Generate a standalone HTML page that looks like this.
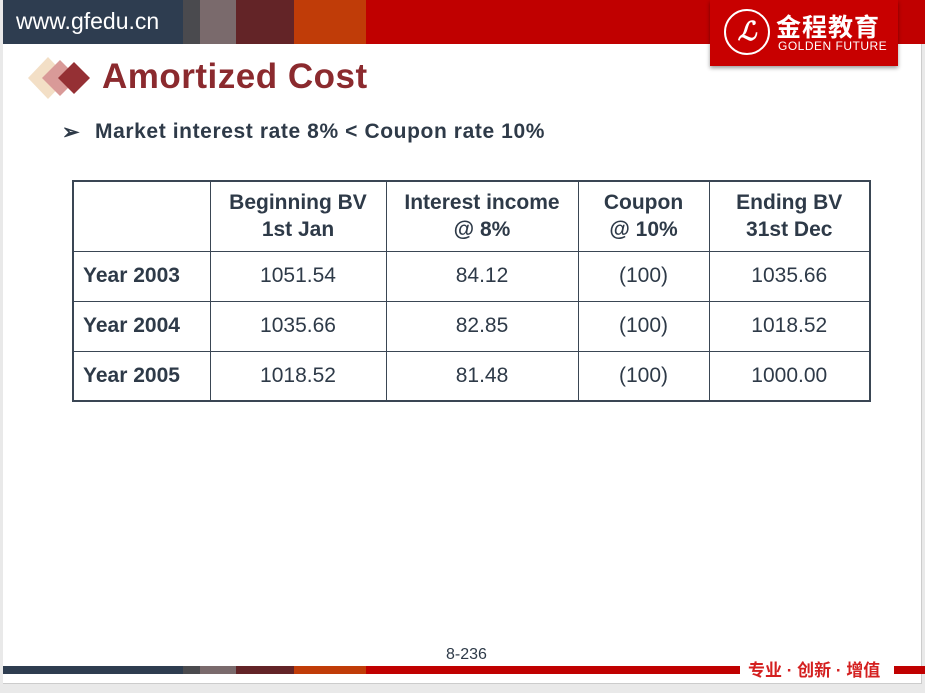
<!DOCTYPE html>
<html><head><meta charset="utf-8"><style>
*{margin:0;padding:0;box-sizing:border-box}
body{width:925px;height:693px;background:#e9e9e9;position:relative;overflow:hidden;font-family:"Liberation Sans","Noto Sans CJK SC",sans-serif}
.page{position:absolute;left:3px;top:0;width:919px;height:684px;background:#fff;border-right:1px solid #ccc;border-bottom:1px solid #ccc}
.seg{position:absolute}
table{position:absolute;left:72px;top:180px;border-collapse:collapse;color:#2e3a48;font-size:21px}
td{border:1px solid #3a4654;text-align:center}
table{border:2px solid #3a4654}
</style></head><body>
<div class="page"></div>
<div class="seg" style="left:3px;top:0;width:180px;height:44px;background:#2e3d50"></div>
<div class="seg" style="left:183px;top:0;width:17px;height:44px;background:#4a4a4e"></div>
<div class="seg" style="left:200px;top:0;width:36px;height:44px;background:#7a6a6c"></div>
<div class="seg" style="left:236px;top:0;width:58px;height:44px;background:#632427"></div>
<div class="seg" style="left:294px;top:0;width:72px;height:44px;background:#c03c08"></div>
<div class="seg" style="left:366px;top:0;width:559px;height:44px;background:#c00000"></div>
<div class="seg" style="left:16px;top:8px;color:#fff;font-size:23px">www.gfedu.cn</div>
<div class="seg" style="left:710px;top:0;width:188px;height:66px;background:#c80000;box-shadow:0 2px 4px rgba(0,0,0,.4)"></div>
<div class="seg" style="left:724px;top:9px;width:46px;height:46px;border:2px solid #fff;border-radius:50%;color:#fff;font:italic bold 26px 'Liberation Serif',serif;text-align:center;line-height:42px">ℒ</div>
<div class="seg" style="left:776px;top:8px;color:#fff;font-size:25px;font-weight:bold;letter-spacing:1px">金程教育</div>
<div class="seg" style="left:778px;top:39px;color:#fff;font-size:12px;letter-spacing:.5px">GOLDEN FUTURE</div>
<svg class="seg" style="left:28px;top:55px" width="66" height="46">
<polygon points="20,2 40,23 20,44 0,23" fill="#f3dfc6"/>
<polygon points="32,5 50,23 32,41 14,23" fill="#d99a98"/>
<polygon points="46,7 62,23 46,39 30,23" fill="#953034"/>
</svg>
<div class="seg" style="left:102px;top:57px;color:#8b2a2e;font-size:35px;font-weight:bold;letter-spacing:.5px">Amortized Cost</div>
<div class="seg" style="left:62px;top:120px;color:#2e3a48;font-size:21px;font-weight:bold">➢</div>
<div class="seg" style="left:95px;top:120px;color:#2e3a48;font-size:21px;font-weight:bold;letter-spacing:.6px">Market interest rate 8% &lt; Coupon rate 10%</div>
<table>
<tr style="height:70px;line-height:27px"><td style="width:137px"></td><td style="width:176px"><b>Beginning BV<br>1st Jan</b></td><td style="width:192px"><b>Interest income<br>@ 8%</b></td><td style="width:131px"><b>Coupon<br>@ 10%</b></td><td style="width:161px"><b>Ending BV<br>31st Dec</b></td></tr>
<tr style="height:50px"><td style="text-align:left;padding-left:9px"><b>Year 2003</b></td><td>1051.54</td><td>84.12</td><td>(100)</td><td>1035.66</td></tr>
<tr style="height:50px"><td style="text-align:left;padding-left:9px"><b>Year 2004</b></td><td>1035.66</td><td>82.85</td><td>(100)</td><td>1018.52</td></tr>
<tr style="height:50px"><td style="text-align:left;padding-left:9px"><b>Year 2005</b></td><td>1018.52</td><td>81.48</td><td>(100)</td><td>1000.00</td></tr>
</table>
<div class="seg" style="left:446px;top:646px;color:#2e3a48;font-size:16px">8-236</div>
<div class="seg" style="left:3px;top:666px;width:180px;height:8px;background:#2e3d50"></div>
<div class="seg" style="left:183px;top:666px;width:17px;height:8px;background:#4a4a4e"></div>
<div class="seg" style="left:200px;top:666px;width:36px;height:8px;background:#7a6a6c"></div>
<div class="seg" style="left:236px;top:666px;width:58px;height:8px;background:#632427"></div>
<div class="seg" style="left:294px;top:666px;width:72px;height:8px;background:#c03c08"></div>
<div class="seg" style="left:366px;top:666px;width:374px;height:8px;background:#c00000"></div>
<div class="seg" style="left:894px;top:666px;width:31px;height:8px;background:#c00000"></div>
<div class="seg" style="left:748px;top:656px;color:#d42020;font-size:17px;font-weight:bold">专业 · 创新 · 增值</div>
</body></html>
